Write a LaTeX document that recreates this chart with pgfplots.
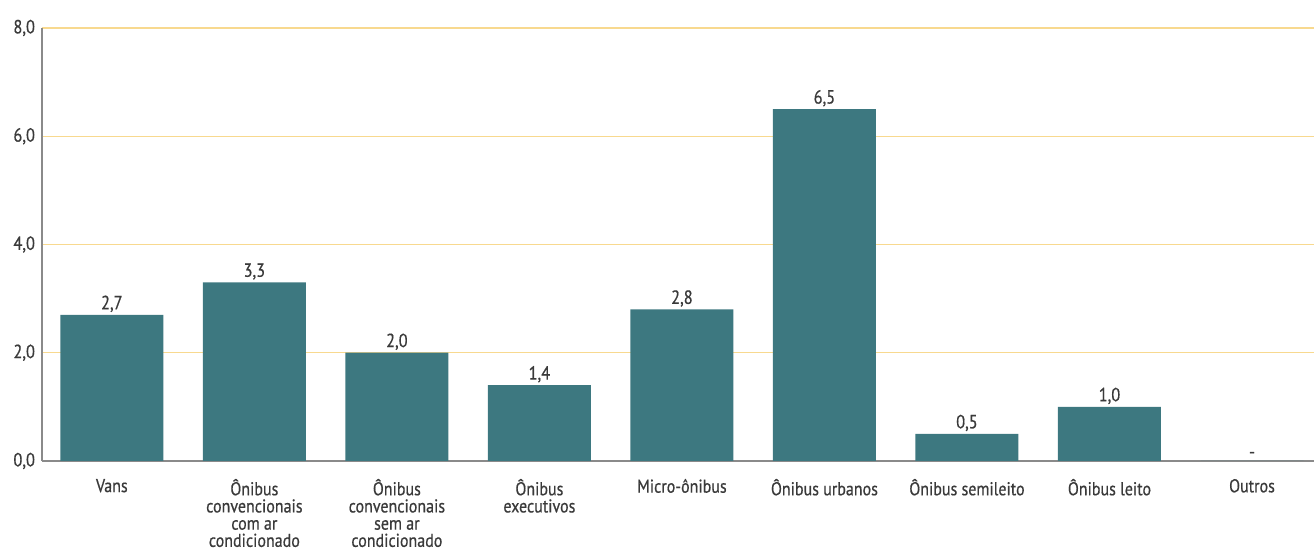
\documentclass[border=0pt]{standalone}
\usepackage{fontspec}
\setmainfont{PT Sans}[FakeStretch=0.86, FakeBold=0.6]
\usepackage{pgfplots}
\usepackage{pgfplotstable}
\pgfplotsset{compat=1.18}

\definecolor{barteal}{HTML}{3D7880}
\definecolor{gridyellow}{HTML}{F8D98F}
\definecolor{axisgray}{HTML}{8A8A8A}
\definecolor{textgray}{HTML}{3A3A3A}

\pgfplotstableread{
x  y    label
0  2.7  {2,7}
1  3.3  {3,3}
2  2.0  {2,0}
3  1.4  {1,4}
4  2.8  {2,8}
5  6.5  {6,5}
6  0.5  {0,5}
7  1.0  {1,0}
8  0.0  {-}
}\veiculos

\begin{document}
\begin{tikzpicture}
\begin{axis}[
    scale only axis,
    width=636pt, height=216.5pt,
    xmin=-0.49, xmax=8.435,
    ymin=0, ymax=8,
    ytick={0,2,4,6,8},
    xtick=data,
    xticklabels={Vans,
        {Ônibus\\convencionais\\com ar\\condicionado},
        {Ônibus\\convencionais\\sem ar\\condicionado},
        {Ônibus\\executivos},
        Micro-ônibus,
        Ônibus urbanos,
        Ônibus semileito,
        Ônibus leito,
        Outros},
    xticklabel style={align=center, font=\fontsize{9.3}{8.6}\selectfont, text=textgray, yshift=-5.5pt},
    yticklabel style={font=\fontsize{9.5}{9}\selectfont, text=textgray},
    /pgf/number format/assume math mode=true,
    /pgf/number format/.cd, use comma, fixed, fixed zerofill, precision=1, /pgfplots/.cd,
    major tick length=0pt,
    axis x line*=bottom,
    axis y line*=left,
    axis line style={axisgray, line width=0.6pt},
    ymajorgrids,
    grid style={gridyellow, line width=0.6pt},
    ybar, bar width=51.5pt,
    nodes near coords,
    point meta=explicit symbolic,
    every node near coord/.append style={font=\fontsize{9.5}{9}\selectfont, text=textgray, inner sep=1.2pt},
]
\addplot[fill=barteal, draw=none] table[x=x, y=y, meta=label] {\veiculos};
\end{axis}
\pgfresetboundingbox
\path ([xshift=-21pt,yshift=-45pt]current axis.south west) rectangle ([yshift=14pt]current axis.north east);
\end{tikzpicture}
\end{document}
